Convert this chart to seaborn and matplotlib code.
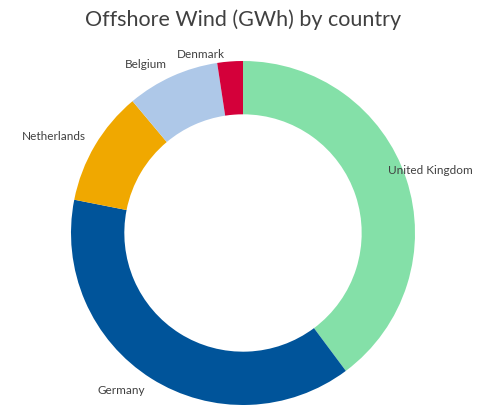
import matplotlib
matplotlib.use("Agg")
import matplotlib.pyplot as plt
import seaborn as sns
import numpy as np

countries = ["United Kingdom", "Germany", "Netherlands", "Belgium", "Denmark"]
share = [39.8, 38.3, 10.8, 8.7, 2.4]
colours = ["#84E0A8", "#00549A", "#F0A800", "#AEC8E8", "#D4003A"]

sns.set_theme(style="white")
plt.rcParams['font.family'] = ['Lato', 'DejaVu Sans']

fig = plt.figure(figsize=(4.87, 4.05), dpi=100)
ax = fig.add_axes([28/487, -43/405, 430/487, 430/405])

wedges, texts = ax.pie(share, labels=countries, colors=sns.color_palette(colours),
                       startangle=90, counterclock=False, labeldistance=1.16,
                       wedgeprops=dict(width=0.31, edgecolor="none"),
                       textprops=dict(fontsize=8.5, color="#404040"))
# excel nudges the labels a bit, do the same
nudge = {"United Kingdom": (-0.01, 0.0), "Germany": (-0.09, 0.065),
         "Netherlands": (-0.10, -0.03), "Belgium": (-0.09, -0.08), "Denmark": (-0.16, -0.12)}
for t in texts:
    t.set_ha("center")
    dx, dy = nudge.get(t.get_text(), (0, 0))
    x, y = t.get_position()
    t.set_position((x + dx, y + dy))

ax.set_xlim(-1.25, 1.25)
ax.set_ylim(-1.25, 1.25)
ax.set_aspect("auto")
ax.axis("off")

fig.text(0.5, 1 - 20/405, "Offshore Wind (GWh) by country", ha="center", va="center",
         fontsize=15.5, color="#404040")

fig.savefig("out.png", dpi=100)
